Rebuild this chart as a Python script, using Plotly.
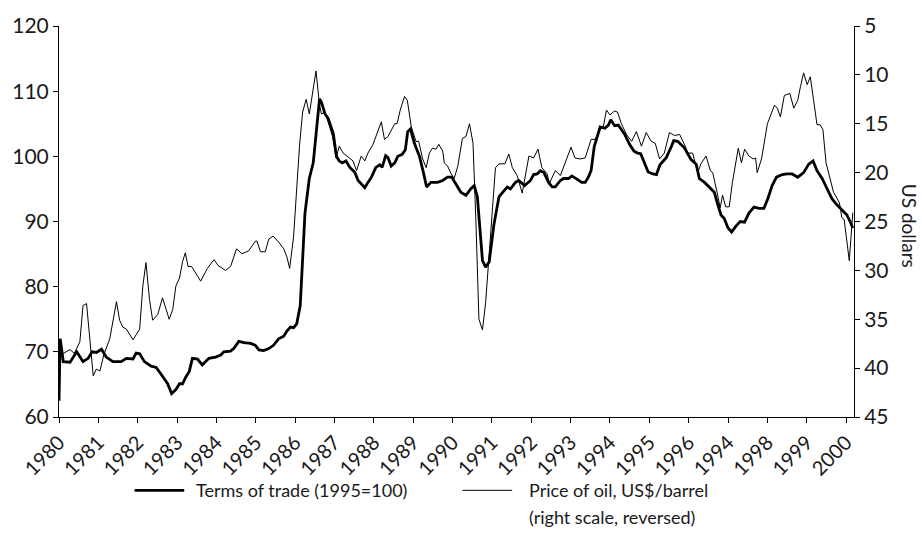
import plotly.graph_objects as go

# Terms of trade (1995=100), left axis
tot_dates = [1980.00, 1980.03, 1980.11, 1980.28, 1980.45, 1980.61, 1980.74, 1980.84, 1980.95,
             1981.08, 1981.20, 1981.37, 1981.58, 1981.71, 1981.88, 1981.96, 1982.05, 1982.17,
             1982.34, 1982.47, 1982.59, 1982.76, 1982.86, 1982.97, 1983.06, 1983.14, 1983.22,
             1983.31, 1983.39, 1983.52, 1983.64, 1983.73, 1983.81, 1983.98, 1984.11, 1984.19,
             1984.36, 1984.44, 1984.57, 1984.70, 1984.87, 1984.99, 1985.08, 1985.20, 1985.33,
             1985.45, 1985.58, 1985.71, 1985.79, 1985.88, 1985.96, 1986.04, 1986.13, 1986.25,
             1986.36, 1986.46, 1986.62, 1986.67, 1986.76, 1986.84, 1986.97, 1987.05, 1987.12,
             1987.20, 1987.29, 1987.39, 1987.52, 1987.60, 1987.68, 1987.77, 1987.85, 1987.94,
             1988.05, 1988.15, 1988.21, 1988.30, 1988.36, 1988.44, 1988.53, 1988.61, 1988.72,
             1988.80, 1988.86, 1988.93, 1989.03, 1989.16, 1989.26, 1989.34, 1989.45, 1989.62,
             1989.75, 1989.87, 1989.98, 1990.08, 1990.21, 1990.34, 1990.46, 1990.55, 1990.63,
             1990.76, 1990.84, 1990.93, 1991.05, 1991.18, 1991.30, 1991.39, 1991.47, 1991.60,
             1991.68, 1991.83, 1991.98, 1992.06, 1992.15, 1992.23, 1992.32, 1992.44, 1992.53,
             1992.61, 1992.74, 1992.82, 1992.95, 1993.03, 1993.16, 1993.28, 1993.37, 1993.45,
             1993.52, 1993.60, 1993.75, 1993.87, 1993.96, 1994.02, 1994.12, 1994.21, 1994.38,
             1994.50, 1994.61, 1994.70, 1994.78, 1994.87, 1994.97, 1995.09, 1995.18, 1995.27,
             1995.43, 1995.56, 1995.62, 1995.72, 1995.89, 1996.06, 1996.19, 1996.27, 1996.40,
             1996.52, 1996.65, 1996.73, 1996.82, 1996.90, 1997.00, 1997.09, 1997.20, 1997.31,
             1997.42, 1997.53, 1997.66, 1997.79, 1997.91, 1998.01, 1998.12, 1998.23, 1998.38,
             1998.50, 1998.63, 1998.77, 1998.92, 1999.05, 1999.16, 1999.26, 1999.39, 1999.51,
             1999.64, 1999.76, 1999.89, 2000.02, 2000.10, 2000.17]
tot_values = [62.5, 72.0, 68.5, 68.4, 70.0, 68.5, 69.0, 70.0, 69.9,
              70.4, 69.2, 68.5, 68.5, 69.0, 68.9, 69.8, 69.7, 68.5,
              67.8, 67.6, 66.6, 65.1, 63.6, 64.2, 65.1, 65.1, 66.1,
              67.0, 69.0, 68.9, 68.0, 68.5, 69.0, 69.2, 69.5, 70.0,
              70.1, 70.5, 71.6, 71.4, 71.3, 71.0, 70.3, 70.2, 70.5,
              71.0, 72.0, 72.4, 73.2, 73.8, 73.7, 74.3, 77.1, 91.3,
              96.6, 99.0, 108.8, 108.3, 106.5, 105.8, 103.5, 100.0, 99.3,
              99.0, 99.3, 98.3, 97.5, 96.3, 95.8, 95.2, 96.0, 96.8,
              98.3, 98.7, 98.3, 100.1, 99.8, 98.5, 99.0, 100.0, 100.3,
              101.0, 103.8, 104.2, 102.0, 100.0, 97.5, 95.3, 96.0, 96.0,
              96.3, 96.8, 96.8, 95.8, 94.5, 94.0, 95.0, 95.5, 93.8,
              84.0, 83.0, 83.8, 89.5, 93.8, 94.6, 95.3, 95.0, 96.0,
              96.3, 95.5, 96.3, 97.2, 97.3, 97.8, 97.5, 96.0, 95.3,
              95.3, 96.3, 96.6, 96.6, 97.0, 96.5, 96.0, 96.0, 96.8,
              97.8, 101.5, 104.5, 104.3, 104.8, 105.6, 104.7, 104.8, 103.3,
              101.8, 100.8, 100.5, 100.4, 99.0, 97.6, 97.3, 97.2, 98.7,
              99.8, 101.5, 102.4, 102.3, 101.3, 99.5, 98.8, 96.6, 96.0,
              95.3, 94.5, 92.8, 91.0, 90.5, 89.0, 88.4, 89.3, 90.0,
              89.9, 91.3, 92.2, 92.0, 92.0, 93.5, 95.5, 96.8, 97.2,
              97.3, 97.3, 96.8, 97.5, 98.8, 99.3, 97.8, 96.6, 95.1,
              93.5, 92.6, 91.8, 91.0, 90.0, 89.0]

# Price of oil, US$/barrel, right axis (reversed)
oil_dates = [1980.00, 1980.04, 1980.11, 1980.28, 1980.39, 1980.53, 1980.61, 1980.70, 1980.87,
             1980.95, 1981.04, 1981.14, 1981.29, 1981.46, 1981.54, 1981.62, 1981.71, 1981.88,
             1982.05, 1982.13, 1982.21, 1982.30, 1982.38, 1982.51, 1982.63, 1982.80, 1982.89,
             1982.97, 1983.06, 1983.14, 1983.21, 1983.28, 1983.37, 1983.60, 1983.77, 1983.94,
             1984.04, 1984.23, 1984.36, 1984.51, 1984.65, 1984.82, 1984.99, 1985.03, 1985.12,
             1985.24, 1985.33, 1985.44, 1985.58, 1985.71, 1985.79, 1985.86, 1985.96, 1986.03,
             1986.11, 1986.19, 1986.28, 1986.36, 1986.45, 1986.53, 1986.62, 1986.67, 1986.76,
             1986.84, 1986.95, 1987.04, 1987.12, 1987.22, 1987.39, 1987.47, 1987.56, 1987.68,
             1987.77, 1987.85, 1987.98, 1988.08, 1988.19, 1988.27, 1988.36, 1988.53, 1988.59,
             1988.67, 1988.78, 1988.85, 1988.95, 1989.07, 1989.14, 1989.24, 1989.33, 1989.41,
             1989.49, 1989.58, 1989.65, 1989.75, 1989.79, 1989.87, 1989.96, 1990.04, 1990.13,
             1990.25, 1990.34, 1990.43, 1990.52, 1990.59, 1990.67, 1990.76, 1990.84, 1991.09,
             1991.18, 1991.33, 1991.43, 1991.52, 1991.64, 1991.77, 1991.94, 1992.06, 1992.17,
             1992.27, 1992.40, 1992.46, 1992.61, 1992.74, 1992.86, 1993.01, 1993.11, 1993.24,
             1993.37, 1993.52, 1993.62, 1993.75, 1993.83, 1993.91, 1994.00, 1994.11, 1994.19,
             1994.29, 1994.42, 1994.55, 1994.67, 1994.80, 1994.92, 1995.05, 1995.15, 1995.26,
             1995.38, 1995.51, 1995.64, 1995.77, 1995.89, 1995.98, 1996.10, 1996.23, 1996.31,
             1996.44, 1996.55, 1996.61, 1996.72, 1996.80, 1996.86, 1996.94, 1997.03, 1997.11,
             1997.26, 1997.34, 1997.42, 1997.53, 1997.64, 1997.70, 1997.74, 1997.85, 1998.00,
             1998.08, 1998.18, 1998.25, 1998.33, 1998.43, 1998.57, 1998.67, 1998.77, 1998.84,
             1998.92, 1999.01, 1999.09, 1999.17, 1999.26, 1999.34, 1999.41, 1999.49, 1999.60,
             1999.68, 1999.75, 1999.83, 1999.89, 1999.95, 2000.08, 2000.17]
oil_values = [40.0, 38.5, 38.5, 38.1, 38.5, 37.3, 33.6, 33.4, 40.8,
              40.1, 40.3, 38.6, 37.0, 33.2, 35.1, 35.8, 36.0, 37.1,
              36.0, 31.6, 29.2, 33.0, 35.1, 34.5, 32.8, 35.0, 34.0,
              31.6, 30.8, 29.1, 28.2, 29.6, 29.6, 31.1, 29.8, 28.9,
              29.5, 30.0, 29.6, 27.8, 28.3, 28.0, 27.0, 27.0, 28.1,
              28.1, 26.8, 26.5, 27.1, 27.8, 28.6, 29.8, 26.6, 22.0,
              17.3, 13.8, 12.5, 14.0, 11.6, 9.6, 13.1, 14.0, 13.8,
              14.8, 16.3, 18.5, 17.3, 18.0, 18.6, 18.8, 19.8, 18.3,
              18.8, 18.0, 17.1, 16.1, 14.8, 16.6, 16.3, 15.0, 15.0,
              13.6, 12.2, 12.6, 15.3, 16.8, 16.8, 18.6, 19.5, 18.0,
              17.5, 17.6, 17.1, 17.8, 19.0, 19.3, 20.1, 20.6, 19.4,
              16.5, 16.3, 15.0, 17.0, 24.6, 35.0, 36.1, 33.3, 19.5,
              19.1, 19.1, 18.1, 19.5, 20.3, 22.1, 18.3, 18.5, 17.6,
              19.5, 20.1, 21.1, 19.8, 20.3, 19.0, 17.4, 18.5, 18.6,
              18.5, 16.6, 16.6, 15.6, 15.3, 13.6, 14.1, 13.7, 13.8,
              15.0, 16.1, 16.8, 15.8, 17.3, 15.9, 16.8, 17.0, 18.6,
              18.0, 15.9, 16.2, 16.1, 17.1, 18.0, 18.0, 20.0, 19.1,
              18.3, 19.8, 20.0, 22.0, 23.6, 22.3, 23.5, 23.5, 21.0,
              17.5, 19.0, 17.6, 18.3, 18.6, 18.5, 20.0, 18.6, 15.0,
              14.1, 13.1, 13.4, 14.3, 12.1, 11.9, 13.4, 12.6, 11.2,
              9.8, 11.0, 10.2, 12.5, 15.1, 15.1, 15.6, 19.0, 20.6,
              22.0, 22.5, 23.1, 24.6, 24.8, 29.0, 24.1]

x_tickvals = list(range(1980, 2001))
x_ticktext = ["1980", "1981", "1982", "1983", "1984", "1985", "1986", "1987", "1988", "1989",
              "1990", "1991", "1992", "1993", "1994", "1995", "1996", "1994", "1998", "1999", "2000"]
left_ticks = [60, 70, 80, 90, 100, 110, 120]
right_ticks = [5, 10, 15, 20, 25, 30, 35, 40, 45]

legend_tot = "Terms of trade (1995=100)"
legend_oil_1 = "Price of oil, US$/barrel"
legend_oil_2 = "(right scale, reversed)"
right_title = "US dollars"

FONT = "Lato"
TXT = "#1a1a1a"

fig = go.Figure()
fig.add_trace(go.Scatter(x=oil_dates, y=oil_values, yaxis="y2", mode="lines",
                         line=dict(color="black", width=1), name=legend_oil_1, showlegend=False))
fig.add_trace(go.Scatter(x=tot_dates, y=tot_values, mode="lines",
                         line=dict(color="black", width=2.8), name=legend_tot, showlegend=False))

axis_common = dict(showgrid=False, zeroline=False, showline=True, linecolor="black", linewidth=1,
                   ticks="outside", ticklen=5, tickcolor="black", tickwidth=1)

fig.update_layout(
    width=922, height=559,
    margin=dict(l=54, r=68, t=17, b=142),
    paper_bgcolor="white", plot_bgcolor="white",
    xaxis=dict(range=[1980, 2000.2], tickvals=x_tickvals, ticktext=x_ticktext, tickangle=-45,
               tickfont=dict(family=FONT, size=20, color=TXT), **axis_common),
    yaxis=dict(range=[60, 120], tickvals=left_ticks,
               tickfont=dict(family=FONT, size=21, color=TXT), **axis_common),
    yaxis2=dict(range=[45, 5], tickvals=right_ticks, overlaying="y", side="right", anchor="x",
                tickfont=dict(family=FONT, size=21, color=TXT), **axis_common),
    font=dict(family=FONT, color=TXT),
    showlegend=False,
)

# right axis title (reads top to bottom)
fig.add_annotation(xref="paper", yref="paper", x=1.0 + 56 / 800, y=0.49, text=right_title,
                   textangle=90, showarrow=False, xanchor="center", yanchor="middle",
                   font=dict(family=FONT, size=19, color=TXT))

# manual legend below the plot
row1 = -0.1875
row2 = -0.255
fig.add_shape(type="line", xref="paper", yref="paper", x0=0.095, x1=0.1575, y0=row1, y1=row1,
              line=dict(color="black", width=2.8))
fig.add_annotation(xref="paper", yref="paper", x=0.17, y=row1, text=legend_tot, showarrow=False,
                   xanchor="left", yanchor="middle", font=dict(family=FONT, size=18, color=TXT))
fig.add_shape(type="line", xref="paper", yref="paper", x0=0.5075, x1=0.57, y0=row1, y1=row1,
              line=dict(color="black", width=1))
fig.add_annotation(xref="paper", yref="paper", x=0.589, y=row1, text=legend_oil_1,
                   showarrow=False, xanchor="left", yanchor="middle",
                   font=dict(family=FONT, size=18, color=TXT))
fig.add_annotation(xref="paper", yref="paper", x=0.589, y=row2, text=legend_oil_2,
                   showarrow=False, xanchor="left", yanchor="middle",
                   font=dict(family=FONT, size=18, color=TXT))

fig.write_html("out.html", config={"displayModeBar": False},
               post_script="document.body.style.margin='0';document.body.style.padding='0';"
                           "document.body.style.overflow='hidden';")
